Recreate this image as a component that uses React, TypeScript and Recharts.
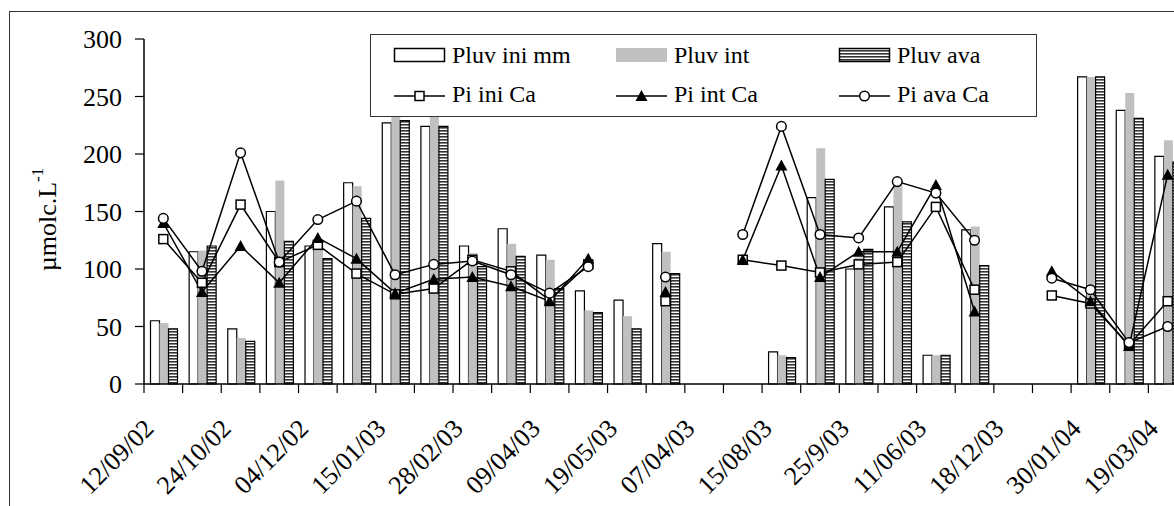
import { ComposedChart, Bar, Line, XAxis, YAxis, Legend } from 'recharts';

// 27 sampling slots, only every other one carries a date label
const categories = [
  '12/09/02', '', '24/10/02', '', '04/12/02', '', '15/01/03', '', '28/02/03', '',
  '09/04/03', '', '19/05/03', '', '07/04/03', '', '15/08/03', '', '25/9/03', '',
  '11/06/03', '', '18/12/03', '', '30/01/04', '', '19/03/04',
];

const pluvIni = [55, 115, 48, 150, 120, 175, 227, 224, 120, 135, 112, 81, 73, 122, null, null, 28, 162, 100, 154, 25, 134, null, null, 267, 238, 198];
const pluvInt = [53, 116, 40, 177, 119, 172, 236, 238, 114, 122, 108, 64, 59, 115, null, null, 25, 205, 110, 176, 25, 137, null, null, 267, 253, 212];
const pluvAva = [48, 120, 37, 124, 109, 144, 229, 224, 102, 111, 83, 62, 48, 96, null, null, 23, 178, 117, 141, 25, 103, null, null, 267, 231, 193];

const piIniCa = [126, 88, 156, 106, 121, 96, 78, 83, 108, 98, 73, 104, null, 72, null, 108, 103, 97, 104, 106, 154, 82, null, 77, 70, 34, 72];
const piIntCa = [140, 80, 120, 88, 127, 109, 79, 91, 93, 85, 72, 109, null, 80, null, 108, 190, 93, 115, 115, 173, 63, null, 98, 72, 33, 182];
const piAvaCa = [144, 98, 201, 106, 143, 159, 95, 104, 107, 95, 79, 102, null, 93, null, 130, 224, 130, 127, 176, 166, 125, null, 92, 82, 36, 50];

const yTicks = [0, 50, 100, 150, 200, 250, 300];

const data = categories.map((label, i) => ({
  idx: i,
  label,
  pluvIni: pluvIni[i],
  pluvInt: pluvInt[i],
  pluvAva: pluvAva[i],
  piIniCa: piIniCa[i],
  piIntCa: piIntCa[i],
  piAvaCa: piAvaCa[i],
}));

const FONT = '"Liberation Serif", "Times New Roman", serif';
const CHART_W = 1200;
const CHART_H = 506;
const MARGIN = { top: 39, right: 13, bottom: 0, left: 0 };
const Y_AXIS_W = 144;
const BAND = (CHART_W - MARGIN.left - MARGIN.right - Y_AXIS_W) / categories.length;

const DateTick = (props: any) => {
  const { x, y, payload } = props;
  const left = x - BAND / 2;
  const label = categories[payload.value];
  const tx = x - 8;
  const ty = y + 46;
  return (
    <g>
      <line x1={left} y1={y} x2={left} y2={y + 9} stroke="#000" strokeWidth={1.2} />
      {label ? (
        <text
          x={tx}
          y={ty}
          transform={`rotate(-45 ${tx} ${ty})`}
          textAnchor="end"
          fontFamily={FONT}
          fontSize={26}
          fill="#000"
        >
          {label}
        </text>
      ) : null}
    </g>
  );
};

const YLabel = (props: any) => {
  const vb = props.viewBox || { x: 0, y: 39, width: 144, height: 345 };
  const x = vb.x + 56;
  const y = vb.y + vb.height / 2 + 8;
  return (
    <text
      x={x}
      y={y}
      transform={`rotate(-90 ${x} ${y})`}
      textAnchor="middle"
      fontFamily={FONT}
      fontSize={26}
      fill="#000"
    >
      µmolc.L
      <tspan dy={-13} fontSize={17}>-1</tspan>
    </text>
  );
};

const SquareDot = (props: any) => {
  const { cx, cy, index } = props;
  if (cx == null || cy == null || props.value == null) return <g key={`sq-${index}`} />;
  return <rect key={`sq-${index}`} x={cx - 4.5} y={cy - 4.5} width={9} height={9} fill="#fff" stroke="#000" strokeWidth={1.5} />;
};

const TriangleDot = (props: any) => {
  const { cx, cy, index } = props;
  if (cx == null || cy == null || props.value == null) return <g key={`tr-${index}`} />;
  return <polygon key={`tr-${index}`} points={`${cx},${cy - 6} ${cx + 6},${cy + 5} ${cx - 6},${cy + 5}`} fill="#000" />;
};

const CircleDot = (props: any) => {
  const { cx, cy, index } = props;
  if (cx == null || cy == null || props.value == null) return <g key={`ci-${index}`} />;
  return <circle key={`ci-${index}`} cx={cx} cy={cy} r={4.8} fill="#fff" stroke="#000" strokeWidth={1.5} />;
};

const LegendBox = () => {
  const textStyle = { fontFamily: FONT, fontSize: 24, fill: '#000' };
  return (
    <svg width={667} height={83} style={{ display: 'block' }}>
      <defs>
        <pattern id="hatchLeg" width={4} height={3} patternUnits="userSpaceOnUse">
          <rect width={4} height={3} fill="#fff" />
          <rect y={1} width={4} height={1.6} fill="#333" />
        </pattern>
      </defs>
      <rect x={0.5} y={0.5} width={666} height={82} fill="#fff" stroke="#333" strokeWidth={1} />
      {/* row 1: bars */}
      <rect x={24.5} y={14.5} width={50} height={13} fill="#fff" stroke="#000" strokeWidth={1.5} />
      <text x={82} y={29} {...textStyle}>Pluv ini mm</text>
      <rect x={246} y={14} width={51} height={14} fill="#c0c0c0" />
      <text x={304} y={29} {...textStyle}>Pluv int</text>
      <rect x={469.5} y={14.5} width={50} height={13} fill="url(#hatchLeg)" stroke="#000" strokeWidth={1.5} />
      <text x={527} y={29} {...textStyle}>Pluv ava</text>
      {/* row 2: lines */}
      <line x1={24} y1={62} x2={75} y2={62} stroke="#000" strokeWidth={1.5} />
      <rect x={45} y={57.5} width={9} height={9} fill="#fff" stroke="#000" strokeWidth={1.5} />
      <text x={82} y={68} {...textStyle}>Pi ini Ca</text>
      <line x1={246} y1={62} x2={297} y2={62} stroke="#000" strokeWidth={1.5} />
      <polygon points="271.5,56 277.5,67 265.5,67" fill="#000" />
      <text x={304} y={68} {...textStyle}>Pi int Ca</text>
      <line x1={469} y1={62} x2={520} y2={62} stroke="#000" strokeWidth={1.5} />
      <circle cx={494.5} cy={62} r={4.8} fill="#fff" stroke="#000" strokeWidth={1.5} />
      <text x={527} y={68} {...textStyle}>Pi ava Ca</text>
    </svg>
  );
};

const App = () => {
  return (
    <div
      style={{
        position: 'fixed',
        left: 0,
        top: 0,
        width: 1174,
        height: 506,
        overflow: 'hidden',
        background: '#fff',
      }}
    >
      <div
        style={{
          position: 'absolute',
          left: 9,
          top: 11,
          width: 1300,
          height: 600,
          border: '1px solid #333',
        }}
      />
      <div style={{ position: 'absolute', left: 0, top: 0 }}>
        <ComposedChart
          width={CHART_W}
          height={CHART_H}
          data={data}
          margin={MARGIN}
          barCategoryGap={6.5}
          barGap={0}
        >
          <defs>
            <pattern id="hatch" width={4} height={3} patternUnits="userSpaceOnUse">
              <rect width={4} height={3} fill="#fff" />
              <rect y={1} width={4} height={1.6} fill="#333" />
            </pattern>
          </defs>
          <XAxis
            dataKey="idx"
            type="category"
            interval={0}
            height={122}
            tickLine={false}
            tickSize={0}
            tickMargin={0}
            axisLine={{ stroke: '#000', strokeWidth: 1.5 }}
            tick={<DateTick />}
          />
          <YAxis
            width={Y_AXIS_W}
            domain={[0, 300]}
            ticks={yTicks}
            interval={0}
            tickSize={9}
            tickMargin={13}
            axisLine={{ stroke: '#000', strokeWidth: 1.5 }}
            tickLine={{ stroke: '#000', strokeWidth: 1.2 }}
            tick={{ fontFamily: FONT, fontSize: 26, fill: '#000' }}
            label={{ content: <YLabel /> }}
          />
          <Legend
            layout="vertical"
            align="center"
            verticalAlign="middle"
            wrapperStyle={{ left: 370, top: 34, width: 667, height: 83 }}
            content={<LegendBox />}
          />
          <Bar dataKey="pluvIni" fill="#fff" stroke="#000" strokeWidth={1.2} isAnimationActive={false} />
          <Bar dataKey="pluvInt" fill="#c0c0c0" isAnimationActive={false} />
          <Bar dataKey="pluvAva" fill="url(#hatch)" stroke="#000" strokeWidth={1.2} isAnimationActive={false} />
          <Line
            dataKey="piIniCa"
            stroke="#000"
            strokeWidth={1.5}
            dot={<SquareDot />}
            activeDot={false}
            isAnimationActive={false}
          />
          <Line
            dataKey="piIntCa"
            stroke="#000"
            strokeWidth={1.5}
            dot={<TriangleDot />}
            activeDot={false}
            isAnimationActive={false}
          />
          <Line
            dataKey="piAvaCa"
            stroke="#000"
            strokeWidth={1.5}
            dot={<CircleDot />}
            activeDot={false}
            isAnimationActive={false}
          />
        </ComposedChart>
      </div>
    </div>
  );
};

export default App;
